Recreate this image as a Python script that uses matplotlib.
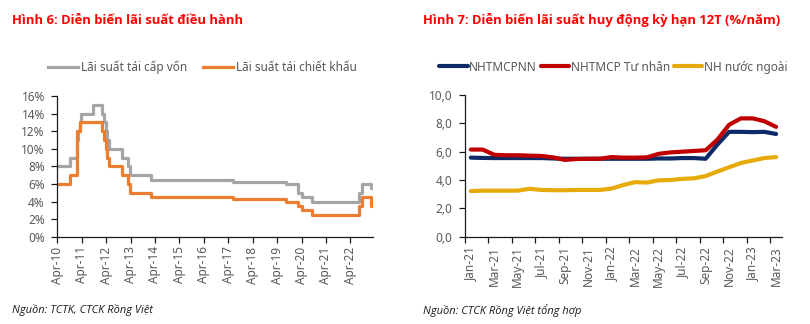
import matplotlib
matplotlib.use("Agg")
import matplotlib.pyplot as plt
import numpy as np
from datetime import datetime

plt.rcParams['font.family'] = ['Noto Sans', 'DejaVu Sans']
TITLE_FONT = ['Open Sans', 'Roboto', 'DejaVu Sans']

# ---- Figure 6: policy rates (step changes) ----
refi_dates = ["2010-04-01", "2010-10-15", "2011-01-15", "2011-02-10", "2011-03-01",
              "2011-03-20", "2011-09-20", "2012-02-05", "2012-03-05", "2012-04-01",
              "2012-04-20", "2012-05-10", "2012-11-20", "2013-02-15", "2013-03-20",
              "2014-02-01", "2017-06-10", "2019-08-10", "2020-02-10", "2020-04-01",
              "2020-09-01", "2022-08-15", "2022-09-15", "2023-02-05", "2023-03-01"]
refi_rates = [8.0, 9.0, 11.0, 12.0, 13.0,
              14.0, 15.0, 14.0, 13.0, 12.0,
              11.0, 10.0, 9.0, 8.0, 7.0,
              6.5, 6.25, 6.0, 5.0, 4.5,
              4.0, 5.0, 6.0, 5.5, 5.5]

disc_dates = ["2010-04-01", "2010-10-15", "2011-01-20", "2011-03-01", "2012-02-05",
              "2012-03-05", "2012-04-01", "2012-04-20", "2012-05-10", "2012-11-20",
              "2013-02-15", "2013-03-20", "2014-02-01", "2017-06-10", "2019-08-10",
              "2020-02-10", "2020-04-01", "2020-09-01", "2022-08-15", "2022-09-15",
              "2023-02-10", "2023-03-01"]
disc_rates = [6.0, 7.0, 12.0, 13.0, 12.0,
              11.0, 10.0, 9.0, 8.0, 7.0,
              6.0, 5.0, 4.5, 4.25, 4.0,
              3.5, 3.0, 2.5, 3.5, 4.5,
              3.5, 3.5]

year_tick_labels = ["Apr-10", "Apr-11", "Apr-12", "Apr-13", "Apr-14", "Apr-15", "Apr-16",
                    "Apr-17", "Apr-18", "Apr-19", "Apr-20", "Apr-21", "Apr-22"]

# ---- Figure 7: 12-month deposit rates (monthly) ----
month_labels = ["Jan-21", "Feb-21", "Mar-21", "Apr-21", "May-21", "Jun-21", "Jul-21",
                "Aug-21", "Sep-21", "Oct-21", "Nov-21", "Dec-21", "Jan-22", "Feb-22",
                "Mar-22", "Apr-22", "May-22", "Jun-22", "Jul-22", "Aug-22", "Sep-22",
                "Oct-22", "Nov-22", "Dec-22", "Jan-23", "Feb-23", "Mar-23"]
state_banks = [5.58, 5.56, 5.55, 5.55, 5.55, 5.55, 5.55, 5.52, 5.5, 5.5, 5.5, 5.5, 5.5, 5.5,
               5.5, 5.5, 5.52, 5.52, 5.55, 5.55, 5.5, 6.5, 7.4, 7.4, 7.38, 7.4, 7.25]
private_banks = [6.15, 6.15, 5.78, 5.75, 5.75, 5.72, 5.7, 5.6, 5.42, 5.48, 5.5, 5.5, 5.62, 5.58,
                 5.58, 5.6, 5.85, 5.95, 6.0, 6.05, 6.1, 6.85, 7.9, 8.35, 8.35, 8.15, 7.75]
foreign_banks = [3.22, 3.25, 3.25, 3.25, 3.25, 3.38, 3.3, 3.28, 3.28, 3.3, 3.3, 3.3, 3.4, 3.65,
                 3.85, 3.82, 3.98, 4.0, 4.08, 4.12, 4.28, 4.6, 4.9, 5.2, 5.38, 5.55, 5.62]

GRAY = "#A5A5A5"
ORANGE = "#ED7D31"
NAVY = "#0B2A66"
RED = "#C00000"
GOLD = "#E6AA0A"
TXT = "#595959"

fig = plt.figure(figsize=(8.1, 3.24), dpi=100)

def style_axes(ax):
    for s in ("top", "right"):
        ax.spines[s].set_visible(False)
    for s in ("left", "bottom"):
        ax.spines[s].set_color("#1a1a1a")
        ax.spines[s].set_linewidth(0.9)
    ax.tick_params(axis="y", direction="out", length=4, width=0.9, color="#1a1a1a",
                   labelsize=8.5, labelcolor=TXT, pad=5)
    ax.tick_params(axis="x", which="both", direction="out", width=0.9, color="#1a1a1a",
                   labelsize=8.5, labelcolor=TXT, rotation=90)

# Left panel
ax1 = fig.add_axes([0.0707, 0.2694, 0.3898, 0.4343])
style_axes(ax1)
rd = [datetime.strptime(d, "%Y-%m-%d") for d in refi_dates]
dd = [datetime.strptime(d, "%Y-%m-%d") for d in disc_dates]
ax1.plot(rd, refi_rates, drawstyle="steps-post", color=GRAY, lw=2.3, label="Lãi suất tái cấp vốn")
ax1.plot(dd, disc_rates, drawstyle="steps-post", color=ORANGE, lw=2.3, label="Lãi suất tái chiết khấu")
ax1.set_ylim(0, 16)
ax1.set_yticks(np.arange(0, 17, 2))
ax1.set_yticklabels([f"{v}%" for v in range(0, 17, 2)])
ax1.set_xlim(datetime(2010, 4, 1), datetime(2023, 3, 5))
ax1.set_xticks([datetime(2010 + i, 4, 1) for i in range(len(year_tick_labels))])
ax1.set_xticklabels(year_tick_labels)
ax1.tick_params(axis="x", length=4, pad=3)

fig.legend(handles=ax1.get_lines(), loc="center", bbox_to_anchor=(0.25, 0.793),
           ncol=2, frameon=False, fontsize=8.5, labelcolor=TXT, handlelength=2.5,
           handletextpad=0.25, columnspacing=1.4, borderaxespad=0, borderpad=0)

fig.text(0.015, 0.938, "Hình 6: Diễn biến lãi suất điều hành", color="#FF0000",
         fontsize=9.35, fontweight="bold", family=TITLE_FONT, va="center", ha="left")
fig.text(0.015, 0.043, "Nguồn: TCTK, CTCK Rồng Việt", color="#1a1a1a",
         fontsize=8, style="italic", family=TITLE_FONT, va="center", ha="left")

# Right panel
ax2 = fig.add_axes([0.574, 0.2694, 0.3914, 0.4374])
style_axes(ax2)
x = np.arange(len(month_labels))
for vals, col, lab in ((state_banks, NAVY, "NHTMCPNN"),
                       (private_banks, RED, "NHTMCP Tư nhân"),
                       (foreign_banks, GOLD, "NH nước ngoài")):
    ax2.plot(x, vals, color=col, lw=3.0, solid_capstyle="round",
             solid_joinstyle="round", label=lab)
ax2.set_ylim(0, 10)
ax2.set_yticks(np.arange(0, 11, 2))
ax2.set_yticklabels([f"{v},0" for v in range(0, 11, 2)])
ax2.set_xlim(-0.5, len(month_labels) - 0.5)
ax2.set_xticks(x[::2])
ax2.set_xticklabels(month_labels[::2])
ax2.set_xticks(np.arange(-0.5, len(month_labels) - 0.5, 2), minor=True)
ax2.tick_params(axis="x", which="major", length=0, pad=7)
ax2.tick_params(axis="x", which="minor", length=4)

fig.legend(handles=ax2.get_lines(), loc="center", bbox_to_anchor=(0.757, 0.793),
           ncol=3, frameon=False, fontsize=8.5, labelcolor=TXT, handlelength=2.4,
           handletextpad=0.15, columnspacing=0.3, borderaxespad=0, borderpad=0)

fig.text(0.522, 0.938, "Hình 7: Diễn biến lãi suất huy động kỳ hạn 12T (%/năm)", color="#FF0000",
         fontsize=9.35, fontweight="bold", family=TITLE_FONT, va="center", ha="left")
fig.text(0.522, 0.043, "Nguồn: CTCK Rồng Việt tổng hợp", color="#1a1a1a",
         fontsize=8, style="italic", family=TITLE_FONT, va="center", ha="left")

fig.savefig("out.png", dpi=100)
